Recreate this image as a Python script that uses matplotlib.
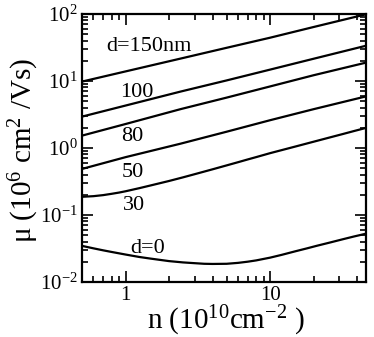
import matplotlib
matplotlib.use("Agg")
import matplotlib.pyplot as plt
from matplotlib.ticker import LogLocator, FuncFormatter, NullFormatter, LogFormatterSciNotation

plt.rcParams['font.family'] = ['Liberation Serif', 'DejaVu Serif']
plt.rcParams['mathtext.fontset'] = 'custom'
plt.rcParams['mathtext.rm'] = 'Liberation Serif'
plt.rcParams['mathtext.it'] = 'Liberation Serif:italic'
plt.rcParams['mathtext.bf'] = 'Liberation Serif:bold'

# ---- data (n in 1e10 cm^-2, mu in 1e6 cm^2/Vs) ----
n_straight = [0.5, 1, 2.4, 5, 10, 20, 46]
mu_d150 = [9.8, 13.9, 21.6, 31.3, 44.3, 64, 99]
mu_d100 = [2.94, 4.3, 6.95, 10.2, 14.8, 21.5, 33.6]
mu_d80 = [1.53, 2.28, 3.8, 5.65, 8.3, 12.2, 18.8]
mu_d50 = [0.487, 0.73, 1.16, 1.75, 2.6, 3.8, 5.89]

n_d30 = [0.5, 0.6, 0.7, 0.8, 0.9, 1.0, 1.25, 1.5, 2.0, 2.5, 3.0, 4.0, 5.0, 6.0,
         7.0, 8.0, 10, 12, 15, 20, 26, 32, 38, 46]
mu_d30 = [0.187, 0.191, 0.198, 0.207, 0.216, 0.226, 0.252, 0.277, 0.322, 0.365,
          0.406, 0.481, 0.550, 0.614, 0.675, 0.731, 0.838, 0.929, 1.054, 1.242,
          1.442, 1.622, 1.791, 1.995]

n_d0 = [0.5, 0.6, 0.7, 0.8, 1.0, 1.25, 1.5, 2.0, 2.5, 3.0, 3.5, 4.0, 5.0, 6.0,
        7.0, 8.0, 10, 12, 15, 18, 21, 26, 32, 38, 46]
mu_d0 = [0.0346, 0.0318, 0.0297, 0.0281, 0.0257, 0.0236, 0.0223, 0.0205, 0.0196,
         0.0191, 0.0187, 0.0186, 0.0187, 0.0193, 0.0201, 0.0210, 0.0231, 0.0254,
         0.0288, 0.0318, 0.0347, 0.0389, 0.0436, 0.0478, 0.0526]

curve_labels = ['d=150nm', '100', '80', '50', '30', 'd=0']

fig = plt.figure(figsize=(3.74, 3.37), dpi=100)
ax = fig.add_axes([82/374, 1-282/337, (366-82)/374, (282-14)/337])

lw = 1.6
ax.plot(n_straight, mu_d150, color='black', lw=lw)
ax.plot(n_straight, mu_d100, color='black', lw=lw)
ax.plot(n_straight, mu_d80, color='black', lw=lw)
ax.plot(n_straight, mu_d50, color='black', lw=lw)
ax.plot(n_d30, mu_d30, color='black', lw=lw)
ax.plot(n_d0, mu_d0, color='black', lw=lw)

ax.set_xscale('log')
ax.set_yscale('log')
ax.set_xlim(0.5, 46)
ax.set_ylim(1e-2, 1e2)

ax.xaxis.set_major_locator(LogLocator(base=10, numticks=10))
ax.xaxis.set_minor_locator(LogLocator(base=10, subs=range(2, 10), numticks=20))
ax.xaxis.set_major_formatter(FuncFormatter(lambda v, p: '%g' % v))
ax.xaxis.set_minor_formatter(NullFormatter())
ax.yaxis.set_major_locator(LogLocator(base=10, numticks=10))
ax.yaxis.set_minor_locator(LogLocator(base=10, subs=range(2, 10), numticks=20))
ax.yaxis.set_major_formatter(LogFormatterSciNotation())
ax.yaxis.set_minor_formatter(NullFormatter())

ax.tick_params(which='both', direction='in', top=True, right=True, width=1.2)
ax.tick_params(which='major', length=8, labelsize=15)
ax.tick_params(which='minor', length=4)
ax.tick_params(axis='y', which='major', pad=3)
ax.tick_params(axis='x', which='major', pad=3)
for s in ax.spines.values():
    s.set_linewidth(1.6)

# curve labels (n, mu) at baseline
label_pos = [(1.45, 28.5), (1.19, 5.69), (1.108, 1.258), (1.117, 0.372), (1.139, 0.12), (1.418, 0.0274)]
for txt, (xx, yy) in zip(curve_labels, label_pos):
    ax.text(xx, yy, txt, ha='center', va='baseline', fontsize=16)

fig.text(226/374, 1-329/337, r'n (10$^{10}$cm$^{-2}$ )', ha='center', va='baseline', fontsize=21)
fig.text(32/374, 1-150/337, r'μ (10$^{6}$ cm$^{2}$ /Vs)', ha='center', va='baseline',
         rotation=90, rotation_mode='anchor', fontsize=21)

fig.savefig('out.png', dpi=100)
